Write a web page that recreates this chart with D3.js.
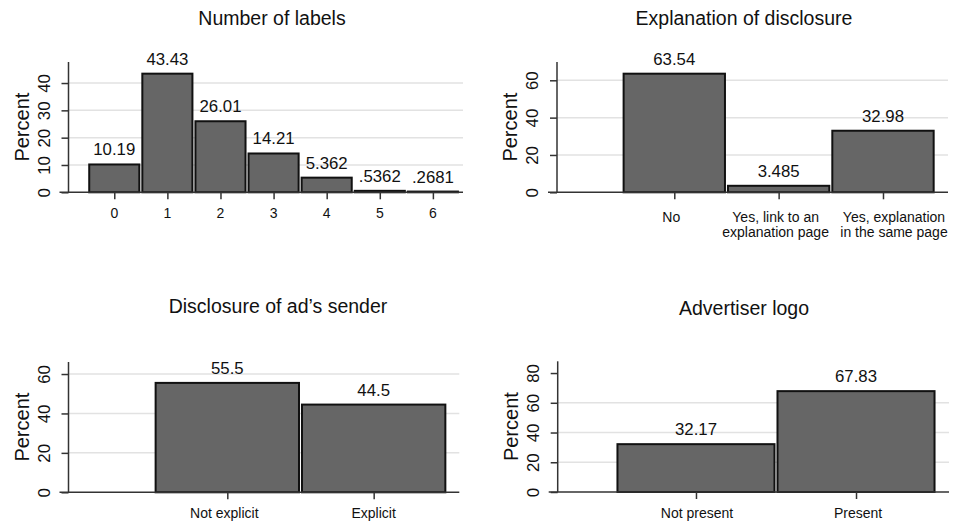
<!DOCTYPE html>
<html>
<head>
<meta charset="utf-8">
<script src="https://cdn.jsdelivr.net/npm/d3@7"></script>
<style>
  html, body { margin: 0; padding: 0; background: #fff; }
  svg text { font-family: "Liberation Sans", Arial, Helvetica, sans-serif; fill: #111; }
</style>
</head>
<body>
<svg id="chart" width="953" height="526"></svg>
<script>
// ---------- data ----------
const titles = ["Number of labels", "Explanation of disclosure", "Disclosure of ad\u2019s sender", "Advertiser logo"];

const labelsCats = ["0", "1", "2", "3", "4", "5", "6"];
const labelsVals = [10.19, 43.43, 26.01, 14.21, 5.362, 0.5362, 0.2681];

const explCats = ["No", "Yes, link to an\nexplanation page", "Yes, explanation\nin the same page"];
const explVals = [63.54, 3.485, 32.98];

const senderCats = ["Not explicit", "Explicit"];
const senderVals = [55.5, 44.5];

const logoCats = ["Not present", "Present"];
const logoVals = [32.17, 67.83];

const yTicksLabels = [0, 10, 20, 30, 40];
const yTicksExpl = [0, 20, 40, 60];
const yTicksSender = [0, 20, 40, 60];
const yTicksLogo = [0, 20, 40, 60, 80];

const gridLabels = [10, 20, 30, 40];
const gridExpl = [20, 40, 60];
const gridSender = [20, 40, 60];
const gridLogo = [20, 40, 60];

const yLabel = "Percent";

// ---------- layout (style) ----------
const panels = [
  { title: titles[0], cats: labelsCats, vals: labelsVals, yTicks: yTicksLabels, grid: gridLabels, pos0: 0,
    left: 68.5, right: 463, top: 62, bottom: 192.3, yMax: 47.7, xMin: -0.862, xMax: 6.567, titleX: 272, titleY: 25,
    labelDx: [0, 0, 0, 0, 0, 0, 0] },
  { title: titles[1], cats: explCats, vals: explVals, yTicks: yTicksExpl, grid: gridExpl, pos0: 1,
    left: 557, right: 948, top: 62, bottom: 192.3, yMax: 69.8, xMin: -0.124, xMax: 3.623, titleX: 744, titleY: 25,
    labelDx: [-3, -3, 11] },
  { title: titles[2], cats: senderCats, vals: senderVals, yTicks: yTicksSender, grid: gridSender, pos0: 1,
    left: 68.5, right: 459.3, top: 362, bottom: 492.3, yMax: 66.1, xMin: -0.085, xMax: 2.585, titleX: 278, titleY: 313,
    labelDx: [-3, 0] },
  { title: titles[3], cats: logoCats, vals: logoVals, yTicks: yTicksLogo, grid: gridLogo, pos0: 1,
    left: 557.7, right: 949, top: 361.3, bottom: 492, yMax: 87.9, xMin: 0.136, xMax: 2.581, titleX: 744, titleY: 315,
    labelDx: [1, 2] }
];

const fmt = v => {
  let s = d3.format(".4~g")(v);
  if (s.startsWith("0.")) s = s.slice(1);
  return s;
};

const svg = d3.select("#chart");

panels.forEach(p => {
  const g = svg.append("g");
  const x = d3.scaleLinear().domain([p.xMin, p.xMax]).range([p.left, p.right]);
  const y = d3.scaleLinear().domain([0, p.yMax]).range([p.bottom, p.top]);
  const positions = p.cats.map((c, i) => p.pos0 + i);
  const bw = (x(1) - x(0)) - 3;

  // title
  g.append("text")
    .attr("x", p.titleX).attr("y", p.titleY)
    .attr("text-anchor", "middle")
    .style("font-size", "19.5px")
    .text(p.title);

  // grid
  g.selectAll("line.grid").data(p.grid).enter().append("line")
    .attr("x1", p.left).attr("x2", p.right)
    .attr("y1", d => y(d)).attr("y2", d => y(d))
    .attr("stroke", "#e2e2e2").attr("stroke-width", 1.5);

  // bars
  g.selectAll("rect.bar").data(p.vals).enter().append("rect")
    .attr("x", (d, i) => x(positions[i]) - bw / 2)
    .attr("width", bw)
    .attr("y", d => y(d))
    .attr("height", d => Math.max(0, y(0) - y(d)))
    .attr("fill", "#666666")
    .attr("stroke", "#111")
    .attr("stroke-width", 2);

  // value labels
  g.selectAll("text.val").data(p.vals).enter().append("text")
    .attr("x", (d, i) => x(positions[i]))
    .attr("y", d => y(d) - 9)
    .attr("text-anchor", "middle")
    .style("font-size", "16.8px")
    .text(d => fmt(d));

  // y axis
  const yAxis = d3.axisLeft(y).tickValues(p.yTicks).tickSize(7).tickSizeOuter(0);
  const ya = g.append("g").attr("transform", `translate(${p.left},0)`).call(yAxis);
  ya.select(".domain").remove();
  ya.selectAll(".tick line").attr("stroke", "#333").attr("stroke-width", 1.5);
  ya.selectAll(".tick text")
    .attr("transform", "rotate(-90)")
    .attr("x", 0).attr("y", -19).attr("dy", 0)
    .attr("text-anchor", "middle")
    .style("font-size", "16.8px")
    .style("font-family", "Liberation Sans, Arial, sans-serif")
    .attr("fill", "#111");
  g.append("line")
    .attr("x1", p.left).attr("x2", p.left)
    .attr("y1", p.top).attr("y2", p.bottom)
    .attr("stroke", "#333").attr("stroke-width", 1.5);

  // y label
  g.append("text")
    .attr("transform", `translate(${p.left - 40},${(p.top + p.bottom) / 2}) rotate(-90)`)
    .attr("text-anchor", "middle")
    .style("font-size", "20px")
    .text(yLabel);

  // x axis
  const xAxis = d3.axisBottom(x).tickValues(positions).tickSize(7).tickSizeOuter(0).tickFormat("");
  const xa = g.append("g").attr("transform", `translate(0,${p.bottom})`).call(xAxis);
  xa.select(".domain").remove();
  xa.selectAll(".tick line").attr("stroke", "#333").attr("stroke-width", 1.5);
  g.append("line")
    .attr("x1", p.left - 9).attr("x2", p.right)
    .attr("y1", p.bottom).attr("y2", p.bottom)
    .attr("stroke", "#333").attr("stroke-width", 1.5);

  const multi = p.cats.some(c => c.includes("\n"));
  const base = p.bottom + (multi ? 29.5 : 25.5);
  p.cats.forEach((c, i) => {
    c.split("\n").forEach((line, j) => {
      g.append("text")
        .attr("x", x(positions[i]) + p.labelDx[i])
        .attr("y", base + j * 15.5)
        .attr("text-anchor", "middle")
        .style("font-size", "14px")
        .text(line);
    });
  });
});
</script>
</body>
</html>
